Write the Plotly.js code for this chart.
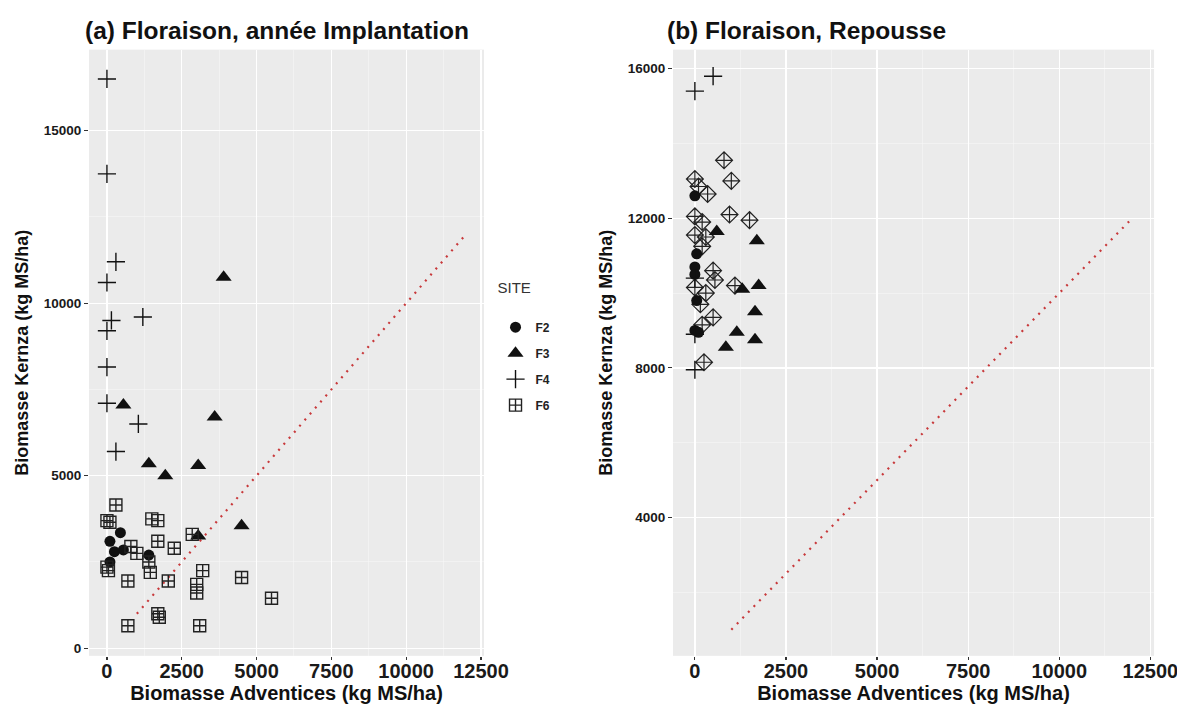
<!DOCTYPE html>
<html>
<head>
<meta charset="utf-8">
<script src="https://cdn.plot.ly/plotly-3.0.1.min.js"></script>
<style>html,body{margin:0;padding:0;background:#fff;}#chart{width:1177px;height:709px;}</style>
</head>
<body>
<div id="chart"></div>
<script>
// ---- Data (a) Floraison, année Implantation ----
const a_F2_x = [450, 100, 550, 250, 100, 1400];
const a_F2_y = [3350, 3100, 2850, 2800, 2500, 2700];
const a_F3_x = [3900, 550, 3600, 1400, 3050, 1950, 4500, 3050];
const a_F3_y = [10750, 7050, 6700, 5350, 5300, 5000, 3550, 3250];
const a_F4_x = [0, 0, 300, 0, 150, 0, 1200, 0, 0, 1050, 300];
const a_F4_y = [16500, 13750, 11200, 10600, 9500, 9200, 9600, 8150, 7100, 6500, 5700];
const a_F6_x = [300, 0, 100, 1500, 1700, 1700, 2250, 2850, 800, 1000, 0, 50, 1400, 1450, 700, 2050, 3200, 3000, 3000, 4500, 5500, 1700, 1750, 700, 3100];
const a_F6_y = [4150, 3700, 3650, 3750, 3700, 3100, 2900, 3300, 2950, 2750, 2350, 2250, 2500, 2200, 1950, 1950, 2250, 1850, 1600, 2050, 1450, 1000, 900, 650, 650];

// ---- Data (b) Floraison, Repousse ----
const b_F2_x = [0, 50, 0, 0, 50, 0, 100];
const b_F2_y = [12600, 11050, 10700, 10500, 9800, 9000, 8950];
const b_F3_x = [600, 1700, 1750, 1300, 1650, 1150, 1650, 850];
const b_F3_y = [11650, 11400, 10200, 10100, 9500, 8950, 8750, 8550];
const b_F4_x = [0, 500, 0, 0, 0];
const b_F4_y = [15400, 15800, 10400, 8900, 7950];
const b_F6_x = [800, 1000, 0, 100, 350, 950, 1500, 0, 200, 0, 300, 200, 500, 550, 1100, 0, 300, 150, 500, 200, 250];
const b_F6_y = [13550, 13000, 13050, 12850, 12650, 12100, 11950, 12050, 11900, 11550, 11500, 11250, 10600, 10350, 10200, 10150, 10000, 9700, 9350, 9150, 8150];

// 1:1 reference line
const lineX = [1000, 12000];
const lineY = [1000, 12000];

const siteNames = ['F2', 'F3', 'F4', 'F6'];
const xTickVals = [0, 2500, 5000, 7500, 10000, 12500];
const yTickValsA = [0, 5000, 10000, 15000];
const yTickValsB = [4000, 8000, 12000, 16000];

const ink = '#111111';
const markerStyles = {
  F2: {symbol: 'circle', size: 11, color: ink, line: {width: 0}},
  F3: {symbol: 'triangle-up', size: 14, color: ink, line: {width: 0}},
  F4: {symbol: 'cross-thin-open', size: 13, color: ink, line: {width: 1.4, color: ink}},
  F6: {symbol: 'square-cross-open', size: 12, color: '#222', line: {width: 1.4, color: '#222'}},
  F6b: {symbol: 'diamond-cross-open', size: 13, color: '#222', line: {width: 1.2, color: '#222'}}
};

function pts(x, y, name, style, xa, ya, showlegend) {
  return {type: 'scatter', mode: 'markers', x: x, y: y, name: name, legendgroup: name,
    showlegend: showlegend, xaxis: xa, yaxis: ya, marker: style, hoverinfo: 'x+y+name'};
}
function refLine(xa, ya) {
  return {type: 'scatter', mode: 'lines', x: lineX, y: lineY, xaxis: xa, yaxis: ya,
    showlegend: false, hoverinfo: 'skip',
    line: {color: '#c8393b', width: 2.2, dash: '2px,6px'}};
}

const data = [
  refLine('x', 'y'),
  refLine('x2', 'y2'),
  pts(a_F2_x, a_F2_y, siteNames[0], markerStyles.F2, 'x', 'y', true),
  pts(a_F3_x, a_F3_y, siteNames[1], markerStyles.F3, 'x', 'y', true),
  pts(a_F4_x, a_F4_y, siteNames[2], markerStyles.F4, 'x', 'y', true),
  pts(a_F6_x, a_F6_y, siteNames[3], markerStyles.F6, 'x', 'y', true),
  pts(b_F6_x, b_F6_y, siteNames[3], markerStyles.F6b, 'x2', 'y2', false),
  pts(b_F2_x, b_F2_y, siteNames[0], markerStyles.F2, 'x2', 'y2', false),
  pts(b_F4_x, b_F4_y, siteNames[2], markerStyles.F4, 'x2', 'y2', false),
  pts(b_F3_x, b_F3_y, siteNames[1], markerStyles.F3, 'x2', 'y2', false)
];

const FONT = 'Liberation Sans, Arial, sans-serif';
function xAxis(domain, anchor) {
  return {
    domain: domain, anchor: anchor, range: [-600, 12600],
    tickvals: xTickVals, ticktext: xTickVals.map(String),
    showgrid: true, gridcolor: '#ffffff', gridwidth: 1.3,
    minor: {dtick: 1250, tick0: 0, showgrid: true, gridcolor: '#f7f7f7', gridwidth: 0.6, ticks: ''},
    zeroline: false, showline: false,
    ticks: 'outside', ticklen: 3, tickwidth: 1.2, tickcolor: '#333',
    ticklabeloverflow: 'allow', ticklabelstandoff: -6,
    tickfont: {family: FONT, size: 20, color: '#1a1a1a', weight: 'bold'},
    title: {text: 'Biomasse Adventices (kg MS/ha)', standoff: 0,
      font: {family: FONT, size: 20, color: '#111', weight: 'bold'}}
  };
}
function yAxis(domain, anchor, range, tickvals, minorDtick, minorTick0) {
  return {
    domain: domain, anchor: anchor, range: range,
    tickvals: tickvals, ticktext: tickvals.map(String),
    showgrid: true, gridcolor: '#ffffff', gridwidth: 1.3,
    minor: {dtick: minorDtick, tick0: minorTick0, showgrid: true, gridcolor: '#f7f7f7', gridwidth: 0.6, ticks: ''},
    zeroline: false, showline: false,
    ticks: 'outside', ticklen: 4, tickwidth: 1.2, tickcolor: '#333',
    tickfont: {family: FONT, size: 13.5, color: '#1a1a1a', weight: 'bold'},
    title: {text: 'Biomasse Kernza (kg MS/ha)', standoff: 10,
      font: {family: FONT, size: 18, color: '#111', weight: 'bold'}}
  };
}

const layout = {
  width: 1177, height: 709,
  margin: {l: 0, r: 0, t: 0, b: 0},
  paper_bgcolor: '#ffffff',
  plot_bgcolor: '#ebebeb',
  font: {family: FONT, color: '#111'},
  xaxis: xAxis([0.0756, 0.4112], 'y'),
  yaxis: yAxis([0.075, 0.93], 'x', [-220, 17350], yTickValsA, 2500, 2500),
  xaxis2: xAxis([0.5718, 0.9805], 'y2'),
  yaxis2: yAxis([0.075, 0.93], 'x2', [300, 16510], yTickValsB, 2000, 2000),
  showlegend: true,
  legend: {
    x: 0.421, y: 0.614, xanchor: 'left', yanchor: 'top',
    bgcolor: '#ffffff', borderwidth: 0,
    title: {text: 'SITE<br> ', font: {family: FONT, size: 15, color: '#333', weight: 'normal'}},
    font: {family: FONT, size: 12, color: '#222', weight: 'bold'},
    tracegroupgap: 7
  },
  annotations: [
    {xref: 'paper', yref: 'paper', x: 83 / 1177, y: 1 - 30 / 709, xanchor: 'left', yanchor: 'middle',
     text: '(a) Floraison, année Implantation', showarrow: false,
     font: {family: FONT, size: 24.5, color: '#111', weight: 'bold'}},
    {xref: 'paper', yref: 'paper', x: 665 / 1177, y: 1 - 30 / 709, xanchor: 'left', yanchor: 'middle',
     text: '(b) Floraison, Repousse', showarrow: false,
     font: {family: FONT, size: 24.5, color: '#111', weight: 'bold'}}
  ]
};

Plotly.newPlot('chart', data, layout, {displayModeBar: false, staticPlot: true});
</script>
</body>
</html>
